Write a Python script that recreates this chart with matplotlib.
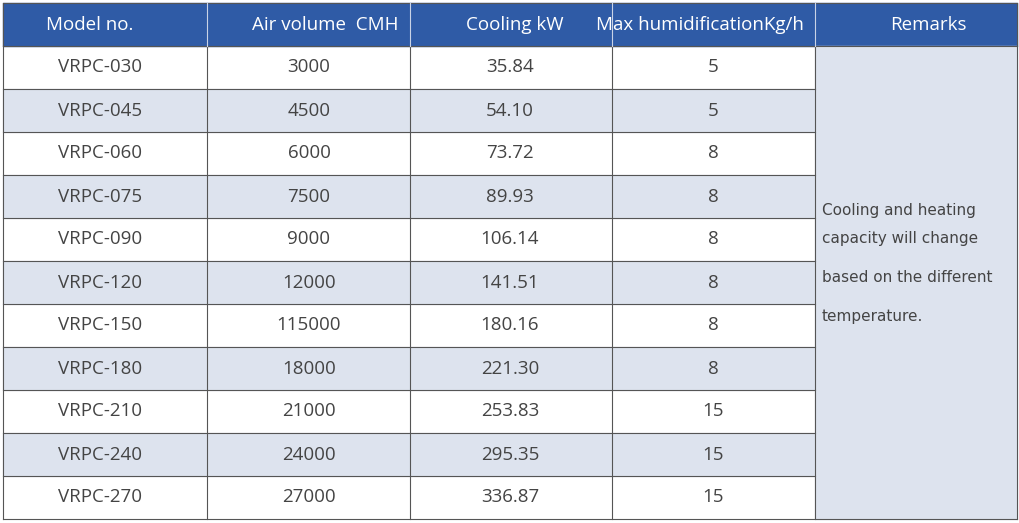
import matplotlib
matplotlib.use("Agg")
import matplotlib.pyplot as plt
from matplotlib.patches import Rectangle

headers = ["Model no.", "Air volume  CMH", "Cooling kW", "Max humidificationKg/h", "Remarks"]
models = ["VRPC-030","VRPC-045","VRPC-060","VRPC-075","VRPC-090","VRPC-120","VRPC-150","VRPC-180","VRPC-210","VRPC-240","VRPC-270"]
air = ["3000","4500","6000","7500","9000","12000","115000","18000","21000","24000","27000"]
cooling = ["35.84","54.10","73.72","89.93","106.14","141.51","180.16","221.30","253.83","295.35","336.87"]
humid = ["5","5","8","8","8","8","8","8","15","15","15"]
remarks = ["Cooling and heating", "capacity will change", "based on the different", "temperature."]

W, H = 1020, 523
fig = plt.figure(figsize=(W/100, H/100), dpi=100)
ax = fig.add_axes([0, 0, 1, 1])
ax.set_xlim(0, W); ax.set_ylim(H, 0); ax.axis("off")
plt.rcParams['font.family'] = ['Open Sans', 'DejaVu Sans']

cols = [3, 207, 410, 612, 815, 1017]
top, hh, rh = 3, 43, 43
hdr_color = "#2f5ba6"
line = "#555555"
alt = "#dde3ee"

ax.add_patch(Rectangle((cols[0], top), cols[-1]-cols[0], hh, color=hdr_color, zorder=1))
hx = [90, 325, 515, 596, 928]
for i, h in enumerate(headers):
    ha = "left" if i == 3 else "center"
    ax.text(hx[i], top+hh/2, h, color="white", fontsize=13.5, ha=ha, va="center", zorder=3)

y0 = top + hh
n = len(models)
for r in range(n):
    y = y0 + r*rh
    if r % 2 == 1:
        ax.add_patch(Rectangle((cols[0], y), cols[4]-cols[0], rh, color=alt, zorder=1))
    for c, vals, x in [(0, models, 100), (1, air, 309), (2, cooling, 510), (3, humid, 713)]:
        ax.text(x, y+rh/2, vals[r], color="#444444", fontsize=13.5, ha="center", va="center", zorder=3)
ax.add_patch(Rectangle((cols[4], y0), cols[5]-cols[4], n*rh, color=alt, zorder=1))
for t, yy in zip(remarks, [210, 238, 277, 316]):
    ax.text(822, yy, t, color="#444444", fontsize=11, ha="left", va="center", zorder=3,
            family=['DejaVu Sans'])

bottom = y0 + n*rh
for r in range(n+1):
    y = y0 + r*rh
    ax.plot([cols[0], cols[4] if 0 < r < n else cols[5]], [y, y], color=line, lw=0.8, zorder=2)
ax.plot([cols[0], cols[5]], [top, top], color=line, lw=0.8, zorder=2)
for i, x in enumerate(cols):
    ax.plot([x, x], [y0, bottom], color=line, lw=0.8, zorder=2)
    c = line if i in (0, len(cols)-1) else "#c9d3e6"
    ax.plot([x, x], [top, y0], color=c, lw=0.8, zorder=2)

fig.savefig("out.png", dpi=100)
